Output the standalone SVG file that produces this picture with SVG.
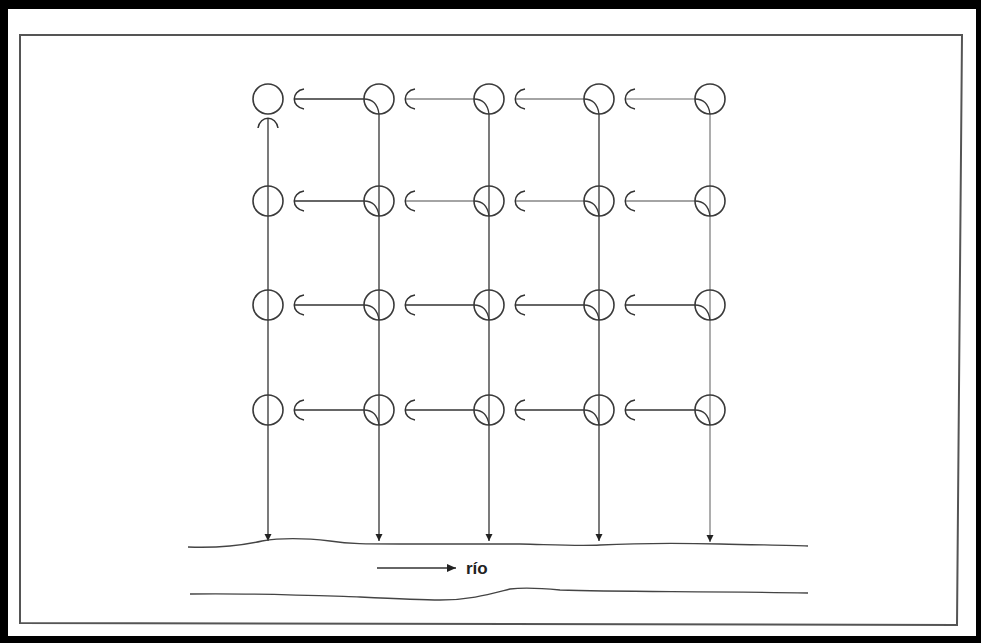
<svg xmlns="http://www.w3.org/2000/svg" xmlns:xlink="http://www.w3.org/1999/xlink" width="981" height="643" viewBox="0 0 981 643">
<style>
.nd{fill:none;stroke:#3a3a3a;stroke-width:1.6}
.ic{fill:none;stroke:#3a3a3a;stroke-width:1.3}
.cn{fill:none;stroke:#333;stroke-width:1.3}
.md{fill:none;stroke:#4a4a4a;stroke-width:1.2}
.lt{fill:none;stroke:#6a6a6a;stroke-width:1.1}
.rv{fill:none;stroke:#444;stroke-width:1.3}
.lbl{font-family:"Liberation Sans",Arial,sans-serif;font-size:17px;font-weight:bold;fill:#222}
</style>
<defs>
<marker id="arc" viewBox="-12 -12 24 24" markerWidth="24" markerHeight="24" refX="0" refY="0" orient="auto-start-reverse" markerUnits="userSpaceOnUse">
<path d="M-10,-10 C3,-8 3,8 -10,10" fill="none" stroke="#333" stroke-width="1.5"/>
</marker>
<marker id="tri" viewBox="-10 -6 12 12" markerWidth="12" markerHeight="12" refX="0" refY="0" orient="auto" markerUnits="userSpaceOnUse">
<path d="M0,0 L-7,-3.5 L-7,3.5 Z" fill="#222"/>
</marker>
<marker id="tri2" viewBox="-10 -6 12 12" markerWidth="12" markerHeight="12" refX="0" refY="0" orient="auto" markerUnits="userSpaceOnUse">
<path d="M0,0 L-9,-4 L-9,4 Z" fill="#222"/>
</marker>
<path id="icv" class="ic" d="M-15,0 Q-2,0 0,15"/>
</defs>
<rect width="981" height="643" fill="#fff"/>
<rect x="0" y="0" width="981" height="9" fill="#000"/>
<rect x="0" y="0" width="8" height="643" fill="#000"/>
<rect x="0" y="636" width="981" height="7" fill="#000"/>
<rect x="976" y="0" width="5" height="643" fill="#000"/>
<polygon points="20,35 962,35 957,625 20,623" fill="none" stroke="#555" stroke-width="2"/>

<g id="connectors">
<line class="cn" x1="268" y1="118" x2="268" y2="541" marker-start="url(#arc)" marker-end="url(#tri)"/>
<line class="cn" x1="379" y1="114" x2="379" y2="541" marker-end="url(#tri)"/>
<line class="cn" x1="489" y1="114" x2="489" y2="541" marker-end="url(#tri)"/>
<line class="cn" x1="599" y1="114" x2="599" y2="541" marker-end="url(#tri)"/>
<line class="lt" x1="710" y1="114" x2="710" y2="542" marker-end="url(#tri)"/>
<line class="cn" x1="364" y1="99" x2="294" y2="99" marker-end="url(#arc)"/>
<line class="md" x1="474" y1="99" x2="405" y2="99" marker-end="url(#arc)"/>
<line class="md" x1="584" y1="99" x2="515" y2="99" marker-end="url(#arc)"/>
<line class="lt" x1="695" y1="99" x2="625" y2="99" marker-end="url(#arc)"/>
<line class="cn" x1="364" y1="201" x2="294" y2="201" marker-end="url(#arc)"/>
<line class="md" x1="474" y1="201" x2="405" y2="201" marker-end="url(#arc)"/>
<line class="md" x1="584" y1="201" x2="515" y2="201" marker-end="url(#arc)"/>
<line class="md" x1="695" y1="201" x2="625" y2="201" marker-end="url(#arc)"/>
<line class="cn" x1="364" y1="305" x2="294" y2="305" marker-end="url(#arc)"/>
<line class="cn" x1="474" y1="305" x2="405" y2="305" marker-end="url(#arc)"/>
<line class="cn" x1="584" y1="305" x2="515" y2="305" marker-end="url(#arc)"/>
<line class="cn" x1="695" y1="305" x2="625" y2="305" marker-end="url(#arc)"/>
<line class="cn" x1="364" y1="410" x2="294" y2="410" marker-end="url(#arc)"/>
<line class="cn" x1="474" y1="410" x2="405" y2="410" marker-end="url(#arc)"/>
<line class="cn" x1="584" y1="410" x2="515" y2="410" marker-end="url(#arc)"/>
<line class="cn" x1="695" y1="410" x2="625" y2="410" marker-end="url(#arc)"/>
</g>

<g id="nodes">
<g id="n11"><circle class="nd" cx="268" cy="99" r="15"/></g>
<g id="n12"><circle class="nd" cx="379" cy="99" r="15"/><use href="#icv" x="379" y="99"/></g>
<g id="n13"><circle class="nd" cx="489" cy="99" r="15"/><use href="#icv" x="489" y="99"/></g>
<g id="n14"><circle class="nd" cx="599" cy="99" r="15"/><use href="#icv" x="599" y="99"/></g>
<g id="n15"><circle class="nd" cx="710" cy="99" r="15"/><use href="#icv" x="710" y="99"/></g>
<g id="n21"><circle class="nd" cx="268" cy="201" r="15"/></g>
<g id="n22"><circle class="nd" cx="379" cy="201" r="15"/><use href="#icv" x="379" y="201"/></g>
<g id="n23"><circle class="nd" cx="489" cy="201" r="15"/><use href="#icv" x="489" y="201"/></g>
<g id="n24"><circle class="nd" cx="599" cy="201" r="15"/><use href="#icv" x="599" y="201"/></g>
<g id="n25"><circle class="nd" cx="710" cy="201" r="15"/><use href="#icv" x="710" y="201"/></g>
<g id="n31"><circle class="nd" cx="268" cy="305" r="15"/></g>
<g id="n32"><circle class="nd" cx="379" cy="305" r="15"/><use href="#icv" x="379" y="305"/></g>
<g id="n33"><circle class="nd" cx="489" cy="305" r="15"/><use href="#icv" x="489" y="305"/></g>
<g id="n34"><circle class="nd" cx="599" cy="305" r="15"/><use href="#icv" x="599" y="305"/></g>
<g id="n35"><circle class="nd" cx="710" cy="305" r="15"/><use href="#icv" x="710" y="305"/></g>
<g id="n41"><circle class="nd" cx="268" cy="410" r="15"/></g>
<g id="n42"><circle class="nd" cx="379" cy="410" r="15"/><use href="#icv" x="379" y="410"/></g>
<g id="n43"><circle class="nd" cx="489" cy="410" r="15"/><use href="#icv" x="489" y="410"/></g>
<g id="n44"><circle class="nd" cx="599" cy="410" r="15"/><use href="#icv" x="599" y="410"/></g>
<g id="n45"><circle class="nd" cx="710" cy="410" r="15"/><use href="#icv" x="710" y="410"/></g>
</g>

<g id="river">
<path class="rv" d="M188,547 C215,548 240,546 262,541 C285,537 305,538 330,541 C350,544 365,544 400,544 L520,544 C560,545 580,546 600,545 C640,543 680,543 720,544 C760,545 790,545 808,546"/>
<path class="rv" d="M190,594 C250,593 300,595 360,597 C400,599 420,600 440,600 C470,600 490,594 510,589 C525,587 540,588 560,590 C620,592 700,591 808,593"/>
<line class="cn" x1="377" y1="568" x2="456" y2="568" marker-end="url(#tri2)"/>
<text class="lbl" x="466" y="574">río</text>
</g>
</svg>
